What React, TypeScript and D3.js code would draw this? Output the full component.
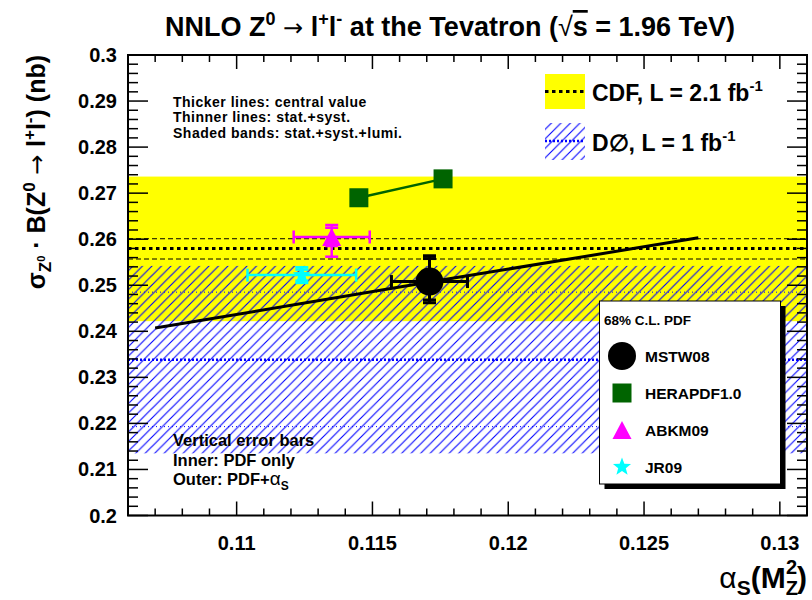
import React from 'react';
import * as d3 from 'd3';

const W = 812;
const H = 600;

// ---------- data ----------
const xDomain = [0.106, 0.131];
const yDomain = [0.2, 0.3];
const xTickValues = [0.11, 0.115, 0.12, 0.125, 0.13];
const xTickLabels = ['0.11', '0.115', '0.12', '0.125', '0.13'];
const yTickValues = [0.2, 0.21, 0.22, 0.23, 0.24, 0.25, 0.26, 0.27, 0.28, 0.29, 0.3];
const yTickLabels = ['0.2', '0.21', '0.22', '0.23', '0.24', '0.25', '0.26', '0.27', '0.28', '0.29', '0.3'];

const cdfCentral = 0.258;
const cdfStatSyst = [0.2557, 0.2601];
const cdfTotal = [0.2422, 0.2736];
const d0Central = 0.2338;
const d0StatSyst = [0.2193, 0.2485];
const d0Total = [0.2135, 0.2542];

const mstwScanAlpha = [0.107, 0.1171, 0.127];
const mstwScanSigma = [0.2407, 0.2507, 0.2603];

const pdfNames = ['MSTW08', 'HERAPDF1.0', 'ABKM09', 'JR09'];
const pdfColors = ['#000000', '#006400', '#ff00ff', '#00ffff'];
const pdfAlpha = [0.1171, 0.1145, 0.1135, 0.1124];
const pdfAlphaErr = [0.0014, 0, 0.0014, 0.002];
const pdfSigma = [0.2508, 0.269, 0.2605, 0.2522];
const pdfInnerUp = [0.005, 0, 0.002, 0.0012];
const pdfInnerDown = [0.004, 0, 0.002, 0.0012];
const pdfOuterUp = [0.0056, 0, 0.0026, 0.0017];
const pdfOuterDown = [0.0046, 0, 0.0043, 0.0017];

const heraAlpha = [0.1145, 0.1176];
const heraSigma = [0.269, 0.2731];

// ---------- layout ----------
const FL = 128;
const FR = 807;
const FT = 55;
const FB = 515.5;
const FONT = '"Liberation Sans", Arial, Helvetica, sans-serif';
const ARROW_FONT = '"DejaVu Sans", sans-serif';

const x = d3.scaleLinear().domain(xDomain).range([FL, FR]);
const y = d3.scaleLinear().domain(yDomain).range([FB, FT]);

function starPath(cx: number, cy: number, R: number, r: number) {
  const pts: [number, number][] = [];
  for (let i = 0; i < 10; i++) {
    const a = -Math.PI / 2 + (i * Math.PI) / 5;
    const rad = i % 2 === 0 ? R : r;
    pts.push([cx + rad * Math.cos(a), cy + rad * Math.sin(a)]);
  }
  return d3.line()(pts) + 'Z';
}

function Marker({ i, cx, cy }: { i: number; cx: number; cy: number }) {
  const c = pdfColors[i];
  if (i === 0) return <circle cx={cx} cy={cy} r={14} fill={c} />;
  if (i === 1) return <rect x={cx - 9.5} y={cy - 9.5} width={19} height={19} fill={c} />;
  if (i === 2)
    return <path d={`M${cx},${cy - 9}L${cx + 9.5},${cy + 9}L${cx - 9.5},${cy + 9}Z`} fill={c} />;
  return <path d={starPath(cx, cy, 9.5, 4)} fill={c} />;
}

function ErrorBars({ i }: { i: number }) {
  const c = pdfColors[i];
  const cx = x(pdfAlpha[i]);
  const cy = y(pdfSigma[i]);
  const sw = i === 0 ? 3 : 2.5;
  const xl = x(pdfAlpha[i] - pdfAlphaErr[i]);
  const xr = x(pdfAlpha[i] + pdfAlphaErr[i]);
  const yo1 = y(pdfSigma[i] + pdfOuterUp[i]);
  const yo2 = y(pdfSigma[i] - pdfOuterDown[i]);
  const yi1 = y(pdfSigma[i] + pdfInnerUp[i]);
  const yi2 = y(pdfSigma[i] - pdfInnerDown[i]);
  const cap = 6.5;
  return (
    <g stroke={c} strokeWidth={sw} fill="none">
      <line x1={xl} x2={xr} y1={cy} y2={cy} />
      <line x1={xl} x2={xl} y1={cy - cap} y2={cy + cap} />
      <line x1={xr} x2={xr} y1={cy - cap} y2={cy + cap} />
      <line x1={cx} x2={cx} y1={yo1} y2={yo2} />
      {[yo1, yo2, yi1, yi2].map((yy, k) => (
        <line key={k} x1={cx - cap} x2={cx + cap} y1={yy} y2={yy} />
      ))}
    </g>
  );
}

export default function App() {
  const xMinor = d3.range(106, 132).map((v) => v / 1000);
  const yMinor = d3.range(100, 151).map((v) => (v * 2) / 1000);
  const lineGen = d3
    .line<number>()
    .x((_, k) => x(mstwScanAlpha[k]))
    .y((v) => y(v));
  const heraLine = d3
    .line<number>()
    .x((_, k) => x(heraAlpha[k]))
    .y((v) => y(v));

  const legRowY = [356, 393, 430, 467];

  return (
    <svg
      width={W}
      height={H}
      style={{ position: 'absolute', left: 0, top: 0, background: '#fff' }}
      fontFamily={FONT}
      fontWeight="bold"
    >
      <defs>
        <pattern id="hatch" patternUnits="userSpaceOnUse" width={9.5} height={9.5}>
          <path d="M-1,1 l2,-2 M0,9.5 l9.5,-9.5 M8.5,10.5 l2,-2" stroke="#0000ff" strokeWidth={1.1} />
        </pattern>
        <clipPath id="frame">
          <rect x={FL} y={FT} width={FR - FL} height={FB - FT} />
        </clipPath>
      </defs>
      <rect x={0} y={0} width={W} height={H} fill="#fff" />

      <g clipPath="url(#frame)">
        {/* CDF band */}
        <rect x={FL} width={FR - FL} y={y(cdfTotal[1])} height={y(cdfTotal[0]) - y(cdfTotal[1])} fill="#ffff00" />
        {cdfStatSyst.map((v, k) => (
          <line key={k} x1={FL} x2={FR} y1={y(v)} y2={y(v)} stroke="#000" strokeWidth={1} strokeDasharray="5 3" />
        ))}
        <line x1={FL} x2={FR} y1={y(cdfCentral)} y2={y(cdfCentral)} stroke="#000" strokeWidth={3} strokeDasharray="3.5 3.5" />
        {/* D0 band */}
        <rect x={FL} width={FR - FL} y={y(d0Total[1])} height={y(d0Total[0]) - y(d0Total[1])} fill="url(#hatch)" />
        {d0StatSyst.map((v, k) => (
          <line key={k} x1={FL} x2={FR} y1={y(v)} y2={y(v)} stroke="#0000ff" strokeWidth={1} strokeDasharray="1 3" />
        ))}
        <line x1={FL} x2={FR} y1={y(d0Central)} y2={y(d0Central)} stroke="#0000ff" strokeWidth={2.5} strokeDasharray="2 2" />

        {/* MSTW alpha_s scan */}
        <path d={lineGen(mstwScanSigma) || ''} stroke="#000" strokeWidth={3} fill="none" />
        {/* HERAPDF */}
        <path d={heraLine(heraSigma) || ''} stroke={pdfColors[1]} strokeWidth={2.5} fill="none" />
        {heraAlpha.map((a, k) => (
          <Marker key={k} i={1} cx={x(a)} cy={y(heraSigma[k])} />
        ))}
        {[3, 2, 0].map((i) => (
          <g key={i}>
            <ErrorBars i={i} />
            <Marker i={i} cx={x(pdfAlpha[i])} cy={y(pdfSigma[i])} />
          </g>
        ))}
      </g>

      {/* info texts */}
      <g fontSize={14} fill="#000" letterSpacing={0.5}>
        <text x={173} y={106.5}>Thicker lines: central value</text>
        <text x={173} y={122}>Thinner lines: stat.+syst.</text>
        <text x={173} y={137.5}>Shaded bands: stat.+syst.+lumi.</text>
      </g>
      <g fontSize={16.5} fill="#000">
        <text x={173} y={446}>Vertical error bars</text>
        <text x={173} y={465.5}>Inner: PDF only</text>
        <text x={173} y={485}>
          Outer: PDF+<tspan fontWeight="normal" fontSize={19}>α</tspan>
          <tspan fontSize={12} dy={5}>S</tspan>
        </text>
      </g>

      {/* experiment legend */}
      <rect x={545} y={74} width={40} height={35} fill="#ffff00" />
      <line x1={545} x2={585} y1={91.5} y2={91.5} stroke="#000" strokeWidth={3} strokeDasharray="3.5 3.5" />
      <rect x={545} y={123} width={40} height={37} fill="url(#hatch)" />
      <line x1={545} x2={585} y1={141} y2={141} stroke="#0000ff" strokeWidth={2.5} strokeDasharray="2 2" />
      <text x={592} y={100.5} fontSize={23}>
        CDF, L = 2.1 fb<tspan fontSize={15} dy={-10}>-1</tspan>
      </text>
      <text x={592} y={151} fontSize={23}>
        D∅, L = 1 fb<tspan fontSize={15} dy={-10}>-1</tspan>
      </text>

      {/* PDF legend */}
      <rect x={604.5} y={306} width={181} height={183} fill="#000" />
      <rect x={599.5} y={301} width={181} height={183} fill="#fff" stroke="#000" strokeWidth={1} />
      <text x={604} y={325} fontSize={13.5}>68% C.L. PDF</text>
      {pdfNames.map((n, i) => (
        <g key={n}>
          <Marker i={i} cx={622} cy={legRowY[i]} />
          <text x={645} y={legRowY[i] + 5.5} fontSize={15.5}>
            {n}
          </text>
        </g>
      ))}

      {/* frame and ticks */}
      <rect x={FL} y={FT} width={FR - FL} height={FB - FT} fill="none" stroke="#000" strokeWidth={2} />
      <g stroke="#000" strokeWidth={1.5}>
        {xMinor.map((v, k) => {
          const major = xTickValues.some((t) => Math.abs(t - v) < 1e-9);
          const len = major ? 14 : 7;
          return (
            <g key={k}>
              <line x1={x(v)} x2={x(v)} y1={FB} y2={FB - len} />
              <line x1={x(v)} x2={x(v)} y1={FT} y2={FT + len} />
            </g>
          );
        })}
        {yMinor.map((v, k) => {
          const major = yTickValues.some((t) => Math.abs(t - v) < 1e-9);
          const len = major ? 20 : 10;
          return (
            <g key={k}>
              <line x1={FL} x2={FL + len} y1={y(v)} y2={y(v)} />
              <line x1={FR} x2={FR - len} y1={y(v)} y2={y(v)} />
            </g>
          );
        })}
      </g>
      <g fontSize={20} fill="#000">
        {xTickValues.map((v, k) => (
          <text key={k} x={x(v)} y={550} textAnchor="middle">
            {xTickLabels[k]}
          </text>
        ))}
        {yTickValues.map((v, k) => (
          <text key={k} x={117} y={y(v) + 7} textAnchor="end">
            {yTickLabels[k]}
          </text>
        ))}
      </g>

      {/* axis titles */}
      <text x={807} y={588} textAnchor="end" fontSize={30}>
        <tspan fontWeight="normal">α</tspan>
        <tspan fontSize={21} dy={7}>S</tspan>
        <tspan dy={-7}>(M</tspan>
        <tspan fontSize={20} dy={7}>Z</tspan>
        <tspan fontSize={20} dx={-12} dy={-21}>2</tspan>
        <tspan dy={14}>)</tspan>
      </text>
      <text transform="translate(45,55) rotate(-90)" textAnchor="end" fontSize={25}>
        σ<tspan fontSize={17} dy={6}>Z</tspan>
        <tspan fontSize={11} dy={-6}>0</tspan>
        <tspan dy={0}> · B(Z</tspan>
        <tspan fontSize={17} dy={-10}>0</tspan>
        <tspan dy={10} fontFamily={ARROW_FONT} fontWeight="normal" fontSize={24}> → </tspan>
        <tspan>l</tspan>
        <tspan fontSize={17} dy={-10}>+</tspan>
        <tspan dy={10}>l</tspan>
        <tspan fontSize={17} dy={-10}>-</tspan>
        <tspan dy={10}>)  (nb)</tspan>
      </text>

      {/* title */}
      <text x={450} y={36} textAnchor="middle" fontSize={27}>
        NNLO Z<tspan fontSize={18} dy={-11}>0</tspan>
        <tspan dy={11} fontFamily={ARROW_FONT} fontWeight="normal" fontSize={24}> → </tspan>
        <tspan>l</tspan>
        <tspan fontSize={18} dy={-11}>+</tspan>
        <tspan dy={11}>l</tspan>
        <tspan fontSize={18} dy={-11}>-</tspan>
        <tspan dy={11}> at the Tevatron (</tspan>
        <tspan fontWeight="normal">√</tspan>
        <tspan style={{ textDecoration: 'overline' }}>s</tspan>
        <tspan> = 1.96 TeV)</tspan>
      </text>
    </svg>
  );
}
